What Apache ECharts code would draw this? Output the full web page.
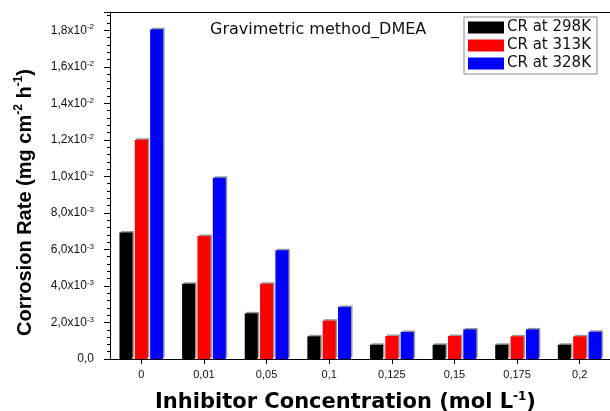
<!DOCTYPE html>
<html>
<head>
<meta charset="utf-8">
<title>Gravimetric method_DMEA</title>
<script src="https://cdn.jsdelivr.net/npm/echarts@6/dist/echarts.min.js"></script>
<style>
  html, body { margin: 0; padding: 0; background: #fff; }
  #myChart { width: 610px; height: 411px; }
</style>
</head>
<body>
<div id="myChart"></div>
<script>
// concentrations (mol L-1), shown with decimal commas
const concentrations = ['0', '0,01', '0,05', '0,1', '0,125', '0,15', '0,175', '0,2']
// corrosion rate (mg cm-2 h-1)
const cr298 = [0.00693, 0.00412, 0.00250, 0.00124, 0.00078, 0.00078, 0.00078, 0.00078]
const cr313 = [0.01200, 0.00673, 0.00412, 0.00210, 0.00126, 0.00126, 0.00124, 0.00124]
const cr328 = [0.01806, 0.00993, 0.00596, 0.00285, 0.00148, 0.00162, 0.00162, 0.00149]
const seriesNames = ['CR at 298K', 'CR at 313K', 'CR at 328K']
// y tick labels: mantissa and power of ten
const yMantissa = ['0,0', '2,0', '4,0', '6,0', '8,0', '1,0', '1,2', '1,4', '1,6', '1,8']
const yExponent = ['', '-3', '-3', '-3', '-3', '-2', '-2', '-2', '-2', '-2']

const myChart = echarts.init(document.getElementById('myChart'))

const barStyle = (color) => ({
  color: color,
  shadowColor: '#9a9a9a',
  shadowBlur: 0,
  shadowOffsetX: 1.5,
  shadowOffsetY: -1.5
})

myChart.setOption({
  animation: false,
  backgroundColor: '#fff',
  textStyle: { fontFamily: 'Liberation Sans' },
  title: {
    text: 'Gravimetric method_DMEA',
    left: 210,
    top: 21,
    padding: 0,
    textStyle: {
      fontFamily: 'DejaVu Sans',
      fontSize: 16,
      fontWeight: 'normal',
      color: '#111',
      lineHeight: 18
    }
  },
  legend: {
    orient: 'vertical',
    left: 464,
    top: 17,
    padding: [3, 6, 3, 4],
    itemWidth: 36,
    itemHeight: 12,
    itemGap: 3,
    icon: 'rect',
    borderColor: '#888',
    borderWidth: 1,
    backgroundColor: '#fff',
    itemStyle: { shadowColor: 'transparent', shadowOffsetX: 0, shadowOffsetY: 0 },
    textStyle: {
      fontFamily: 'DejaVu Sans',
      fontSize: 15,
      lineHeight: 15,
      color: '#111',
      padding: [0, 0, 0, -2]
    },
    data: seriesNames
  },
  grid: {
    left: 110,
    top: 12,
    width: 501,
    height: 347,
    outerBoundsMode: 'none',
    containLabel: false
  },
  xAxis: [
    {
      type: 'category',
      data: concentrations,
      axisLine: { lineStyle: { color: '#000', width: 1 } },
      axisTick: { show: true, alignWithLabel: true, length: 5, lineStyle: { color: '#000' } },
      axisLabel: { fontSize: 11, color: '#111', margin: 10 },
      name: '{n|Inhibitor Concentration (mol L}{s|-1}{n|)}',
      nameLocation: 'middle',
      nameGap: 32,
      nameTextStyle: {
        padding: [0, 30, 0, 0],
        rich: {
          n: { fontFamily: 'DejaVu Sans', fontWeight: 'bold', fontSize: 21, color: '#000', lineHeight: 24 },
          s: { fontFamily: 'DejaVu Sans', fontWeight: 'bold', fontSize: 12, color: '#000', lineHeight: 12, verticalAlign: 'top' }
        }
      }
    },
    {
      // top frame line only
      type: 'category',
      position: 'top',
      data: concentrations,
      axisLine: { show: true, lineStyle: { color: '#000', width: 1 } },
      axisTick: { show: false },
      axisLabel: { show: false }
    }
  ],
  yAxis: {
    type: 'value',
    min: 0,
    max: 0.019,
    interval: 0.002,
    splitLine: { show: false },
    axisLine: { show: true, lineStyle: { color: '#000', width: 1 } },
    axisTick: { show: true, length: 6, lineStyle: { color: '#000' } },
    minorTick: { show: true, splitNumber: 5, length: 3, lineStyle: { color: '#000' } },
    axisLabel: {
      margin: 16,
      color: '#111',
      formatter: (v) => {
        const i = Math.round(v / 0.002)
        if (Math.abs(v - i * 0.002) > 1e-9 || i >= yMantissa.length) return ''
        if (i === 0) return '{m|' + yMantissa[0] + '}'
        return '{m|' + yMantissa[i] + 'x10}{e|' + yExponent[i] + '}'
      },
      rich: {
        m: { fontFamily: 'Liberation Sans', fontSize: 12, color: '#111', lineHeight: 14 },
        e: { fontFamily: 'Liberation Sans', fontSize: 8, color: '#111', lineHeight: 9, verticalAlign: 'top' }
      }
    },
    name: '{n|Corrosion Rate (mg cm}{s|-2}{n| h}{s|-1}{n|)}',
    nameLocation: 'middle',
    nameGap: 73,
    nameRotate: 90,
    nameTextStyle: {
      padding: [0, 34, 0, 0],
      rich: {
        n: { fontFamily: 'Liberation Sans', fontWeight: 'bold', fontSize: 20, color: '#000', lineHeight: 24 },
        s: { fontFamily: 'Liberation Sans', fontWeight: 'bold', fontSize: 12, color: '#000', lineHeight: 12, verticalAlign: 'top' }
      }
    }
  },
  series: [
    { name: seriesNames[0], type: 'bar', data: cr298, barWidth: 13, barGap: '18%', itemStyle: barStyle('#000000') },
    { name: seriesNames[1], type: 'bar', data: cr313, barWidth: 13, barGap: '18%', itemStyle: barStyle('#ff0000') },
    { name: seriesNames[2], type: 'bar', data: cr328, barWidth: 13, barGap: '18%', itemStyle: barStyle('#0000ff') }
  ]
})
</script>
</body>
</html>
